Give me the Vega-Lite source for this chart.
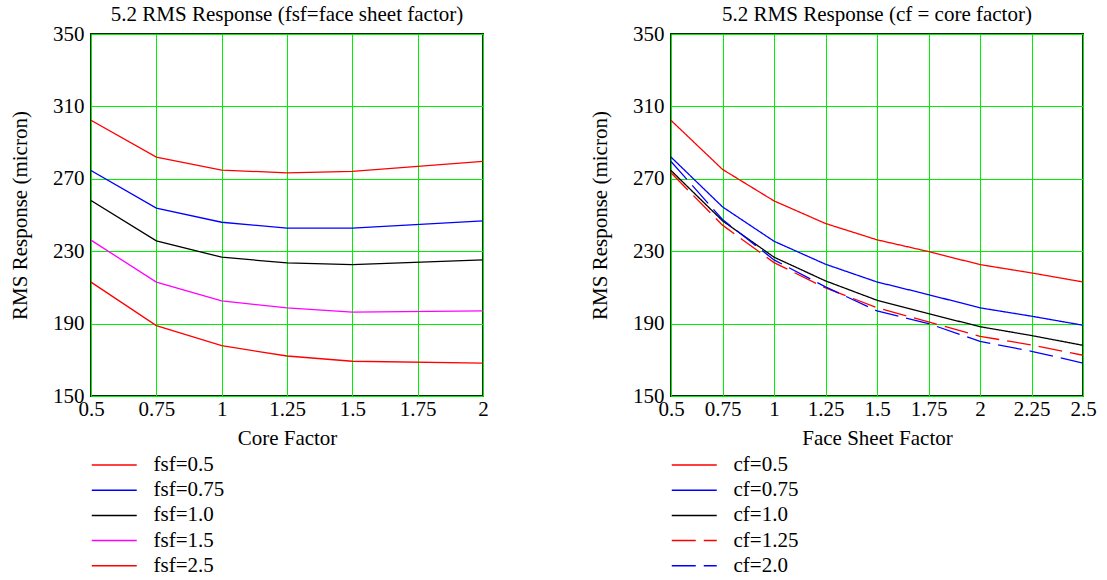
{
  "$schema": "https://vega.github.io/schema/vega-lite/v6.json",
  "background": "white",
  "padding": {"left": 8, "top": 3, "right": 0, "bottom": 0},
  "spacing": 98,
  "resolve": {"scale": {"color": "independent", "strokeDash": "independent"}, "legend": {"color": "independent", "strokeDash": "independent"}},
  "config": {
    "font": "Liberation Serif",
    "view": {"stroke": "#0b2b0b", "strokeWidth": 2},
    "title": {"font": "Liberation Serif", "fontSize": 21, "fontWeight": "normal", "color": "#000", "offset": -2},
    "axis": {
      "labelFont": "Liberation Serif", "labelFontSize": 21, "labelColor": "#000",
      "titleFont": "Liberation Serif", "titleFontSize": 21, "titleFontWeight": "normal", "titleColor": "#000",
      "domain": false, "ticks": false, "labelOverlap": false, "labelFlush": false,
      "gridWidth": 1, "gridColor": "#00ee00", "gridOpacity": 1
    },
    "legend": {
      "labelFont": "Liberation Serif", "labelFontSize": 21, "labelColor": "#000",
      "symbolType": "M-1,0H3", "symbolSize": 506, "symbolStrokeWidth": 1.5,
      "labelOffset": 38.5, "rowPadding": 3.2, "padding": 0, "title": null,
      "orient": "none", "legendX": 0, "legendY": 419, "labelLimit": 300
    }
  },
  "hconcat": [
    {
      "title": "5.2 RMS Response (fsf=face sheet factor)",
      "width": 392,
      "height": 362,
      "data": {"values": [
        {"cf": 0.5, "rms": 302.3, "fsf": "fsf=0.5"},
        {"cf": 0.75, "rms": 282.0, "fsf": "fsf=0.5"},
        {"cf": 1.0, "rms": 274.8, "fsf": "fsf=0.5"},
        {"cf": 1.25, "rms": 273.3, "fsf": "fsf=0.5"},
        {"cf": 1.5, "rms": 274.1, "fsf": "fsf=0.5"},
        {"cf": 2.0, "rms": 279.6, "fsf": "fsf=0.5"},
        {"cf": 0.5, "rms": 274.6, "fsf": "fsf=0.75"},
        {"cf": 0.75, "rms": 253.8, "fsf": "fsf=0.75"},
        {"cf": 1.0, "rms": 246.0, "fsf": "fsf=0.75"},
        {"cf": 1.25, "rms": 242.7, "fsf": "fsf=0.75"},
        {"cf": 1.5, "rms": 242.7, "fsf": "fsf=0.75"},
        {"cf": 2.0, "rms": 246.8, "fsf": "fsf=0.75"},
        {"cf": 0.5, "rms": 258.0, "fsf": "fsf=1.0"},
        {"cf": 0.75, "rms": 235.7, "fsf": "fsf=1.0"},
        {"cf": 1.0, "rms": 226.7, "fsf": "fsf=1.0"},
        {"cf": 1.25, "rms": 223.5, "fsf": "fsf=1.0"},
        {"cf": 1.5, "rms": 222.6, "fsf": "fsf=1.0"},
        {"cf": 2.0, "rms": 225.2, "fsf": "fsf=1.0"},
        {"cf": 0.5, "rms": 236.1, "fsf": "fsf=1.5"},
        {"cf": 0.75, "rms": 212.9, "fsf": "fsf=1.5"},
        {"cf": 1.0, "rms": 202.5, "fsf": "fsf=1.5"},
        {"cf": 1.25, "rms": 198.7, "fsf": "fsf=1.5"},
        {"cf": 1.5, "rms": 196.3, "fsf": "fsf=1.5"},
        {"cf": 2.0, "rms": 197.0, "fsf": "fsf=1.5"},
        {"cf": 0.5, "rms": 212.9, "fsf": "fsf=2.5"},
        {"cf": 0.75, "rms": 188.9, "fsf": "fsf=2.5"},
        {"cf": 1.0, "rms": 177.8, "fsf": "fsf=2.5"},
        {"cf": 1.25, "rms": 172.1, "fsf": "fsf=2.5"},
        {"cf": 1.5, "rms": 169.2, "fsf": "fsf=2.5"},
        {"cf": 2.0, "rms": 168.2, "fsf": "fsf=2.5"}
      ]},
      "mark": {"type": "line", "strokeWidth": 1.3, "clip": true},
      "encoding": {
        "x": {"field": "cf", "type": "quantitative",
          "scale": {"domain": [0.5, 2], "nice": false, "zero": false},
          "axis": {"title": "Core Factor", "values": [0.5, 0.75, 1, 1.25, 1.5, 1.75, 2],
            "labelExpr": "'' + datum.value", "labelPadding": 2, "titlePadding": 8}},
        "y": {"field": "rms", "type": "quantitative",
          "scale": {"domain": [150, 350], "nice": false, "zero": false},
          "axis": {"title": "RMS Response (micron)", "values": [150, 190, 230, 270, 310, 350],
            "labelPadding": 7, "titlePadding": 22}},
        "color": {"field": "fsf", "type": "nominal",
          "scale": {"domain": ["fsf=0.5", "fsf=0.75", "fsf=1.0", "fsf=1.5", "fsf=2.5"],
            "range": ["#ff0000", "#0000ff", "#000000", "#ff00ff", "#ff0000"]}}
      }
    },
    {
      "title": "5.2 RMS Response (cf = core factor)",
      "width": 412,
      "height": 362,
      "data": {"values": [
        {"fsf": 0.5, "rms": 302.3, "cf": "cf=0.5"},
        {"fsf": 0.75, "rms": 275.2, "cf": "cf=0.5"},
        {"fsf": 1.0, "rms": 257.8, "cf": "cf=0.5"},
        {"fsf": 1.25, "rms": 245.3, "cf": "cf=0.5"},
        {"fsf": 1.5, "rms": 236.3, "cf": "cf=0.5"},
        {"fsf": 1.75, "rms": 229.8, "cf": "cf=0.5"},
        {"fsf": 2.0, "rms": 222.6, "cf": "cf=0.5"},
        {"fsf": 2.25, "rms": 218.0, "cf": "cf=0.5"},
        {"fsf": 2.5, "rms": 213.0, "cf": "cf=0.5"},
        {"fsf": 0.5, "rms": 282.0, "cf": "cf=0.75"},
        {"fsf": 0.75, "rms": 254.5, "cf": "cf=0.75"},
        {"fsf": 1.0, "rms": 235.5, "cf": "cf=0.75"},
        {"fsf": 1.25, "rms": 222.8, "cf": "cf=0.75"},
        {"fsf": 1.5, "rms": 213.0, "cf": "cf=0.75"},
        {"fsf": 1.75, "rms": 206.0, "cf": "cf=0.75"},
        {"fsf": 2.0, "rms": 198.7, "cf": "cf=0.75"},
        {"fsf": 2.25, "rms": 194.1, "cf": "cf=0.75"},
        {"fsf": 2.5, "rms": 189.1, "cf": "cf=0.75"},
        {"fsf": 0.5, "rms": 274.6, "cf": "cf=1.0"},
        {"fsf": 0.75, "rms": 246.8, "cf": "cf=1.0"},
        {"fsf": 1.0, "rms": 226.7, "cf": "cf=1.0"},
        {"fsf": 1.25, "rms": 213.6, "cf": "cf=1.0"},
        {"fsf": 1.5, "rms": 202.9, "cf": "cf=1.0"},
        {"fsf": 1.75, "rms": 195.5, "cf": "cf=1.0"},
        {"fsf": 2.0, "rms": 188.3, "cf": "cf=1.0"},
        {"fsf": 2.25, "rms": 183.4, "cf": "cf=1.0"},
        {"fsf": 2.5, "rms": 178.0, "cf": "cf=1.0"},
        {"fsf": 0.5, "rms": 273.3, "cf": "cf=1.25"},
        {"fsf": 0.75, "rms": 244.4, "cf": "cf=1.25"},
        {"fsf": 1.0, "rms": 223.7, "cf": "cf=1.25"},
        {"fsf": 1.25, "rms": 209.7, "cf": "cf=1.25"},
        {"fsf": 1.5, "rms": 198.8, "cf": "cf=1.25"},
        {"fsf": 1.75, "rms": 190.9, "cf": "cf=1.25"},
        {"fsf": 2.0, "rms": 183.0, "cf": "cf=1.25"},
        {"fsf": 2.25, "rms": 178.2, "cf": "cf=1.25"},
        {"fsf": 2.5, "rms": 172.5, "cf": "cf=1.25"},
        {"fsf": 0.5, "rms": 279.6, "cf": "cf=2.0"},
        {"fsf": 0.75, "rms": 247.5, "cf": "cf=2.0"},
        {"fsf": 1.0, "rms": 225.2, "cf": "cf=2.0"},
        {"fsf": 1.25, "rms": 210.3, "cf": "cf=2.0"},
        {"fsf": 1.5, "rms": 197.0, "cf": "cf=2.0"},
        {"fsf": 1.75, "rms": 190.0, "cf": "cf=2.0"},
        {"fsf": 2.0, "rms": 180.2, "cf": "cf=2.0"},
        {"fsf": 2.25, "rms": 174.7, "cf": "cf=2.0"},
        {"fsf": 2.5, "rms": 168.2, "cf": "cf=2.0"}
      ]},
      "mark": {"type": "line", "strokeWidth": 1.3, "clip": true},
      "encoding": {
        "x": {"field": "fsf", "type": "quantitative",
          "scale": {"domain": [0.5, 2.5], "nice": false, "zero": false},
          "axis": {"title": "Face Sheet Factor", "values": [0.5, 0.75, 1, 1.25, 1.5, 1.75, 2, 2.25, 2.5],
            "labelExpr": "'' + datum.value", "labelPadding": 2, "titlePadding": 8}},
        "y": {"field": "rms", "type": "quantitative",
          "scale": {"domain": [150, 350], "nice": false, "zero": false},
          "axis": {"title": "RMS Response (micron)", "values": [150, 190, 230, 270, 310, 350],
            "labelPadding": 7, "titlePadding": 22}},
        "color": {"field": "cf", "type": "nominal",
          "scale": {"domain": ["cf=0.5", "cf=0.75", "cf=1.0", "cf=1.25", "cf=2.0"],
            "range": ["#ff0000", "#0000ff", "#000000", "#ff0000", "#0000ff"]}},
        "strokeDash": {"field": "cf", "type": "nominal",
          "scale": {"domain": ["cf=0.5", "cf=0.75", "cf=1.0", "cf=1.25", "cf=2.0"],
            "range": [[1, 0], [1, 0], [1, 0], [24, 8], [24, 8]]}}
      }
    }
  ]
}
